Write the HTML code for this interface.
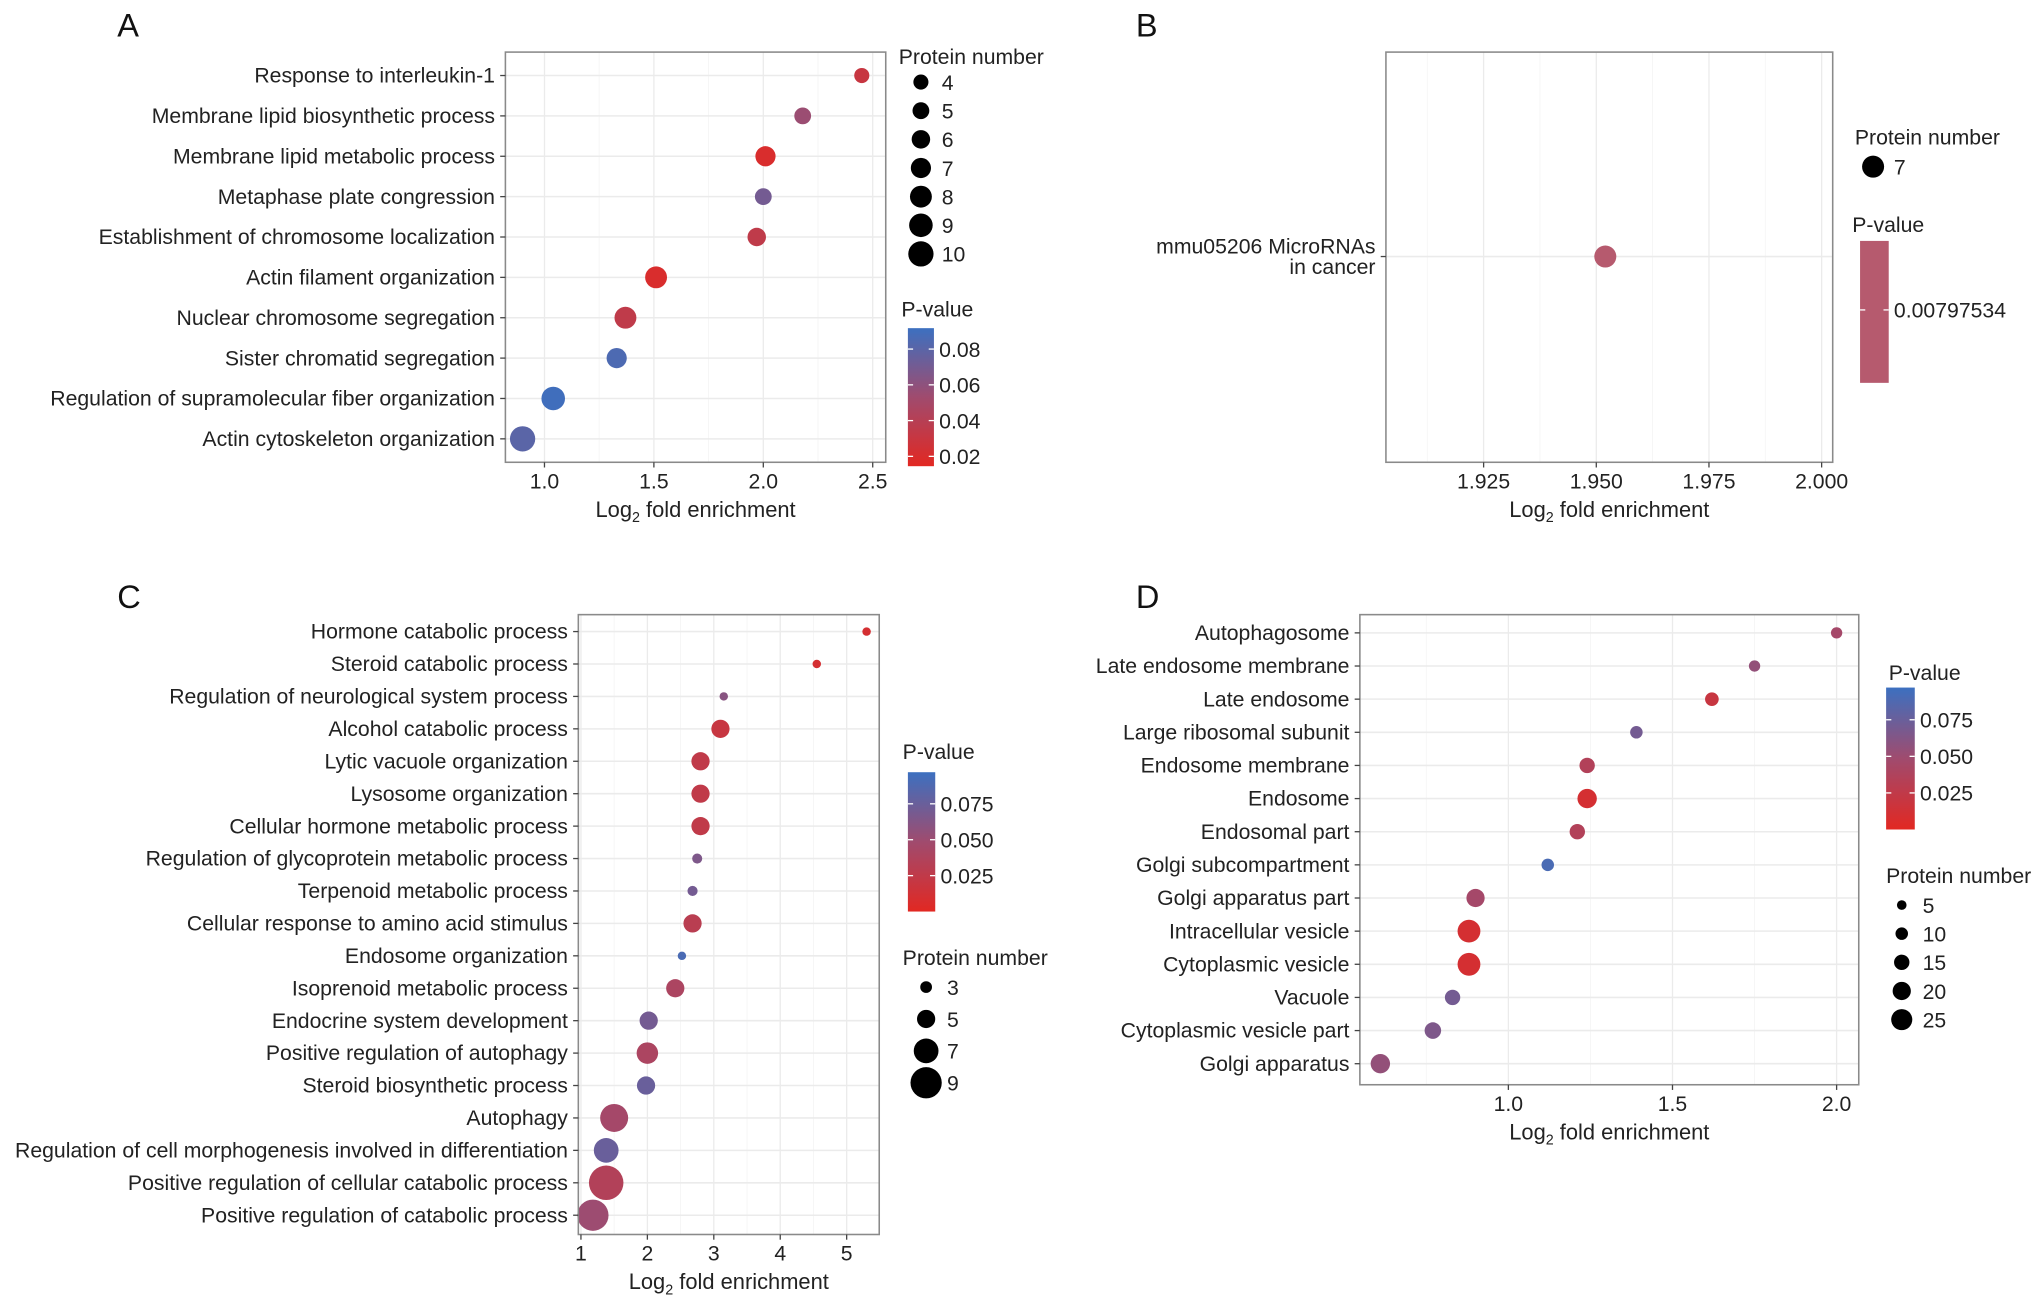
<!DOCTYPE html>
<html><head><meta charset="utf-8"><style>
html,body{margin:0;padding:0;background:#fff;}
svg{display:block;font-family:"Liberation Sans",Arial,sans-serif;}
</style></head>
<body>
<svg id="fig" width="2032" height="1297" viewBox="0 0 1560 996" preserveAspectRatio="none" xmlns="http://www.w3.org/2000/svg">
<defs>
<linearGradient id="pgrad" x1="0" y1="1" x2="0" y2="0">
<stop offset="0" stop-color="rgb(226,40,34)"/><stop offset="0.5" stop-color="rgb(160,75,110)"/><stop offset="1" stop-color="rgb(60,112,192)"/>
</linearGradient>
</defs>
</svg>
<script>
// ---- Panel A data ----
const catsA = ["Response to interleukin-1","Membrane lipid biosynthetic process","Membrane lipid metabolic process","Metaphase plate congression","Establishment of chromosome localization","Actin filament organization","Nuclear chromosome segregation","Sister chromatid segregation","Regulation of supramolecular fiber organization","Actin cytoskeleton organization"];
const foldA = [2.45,2.18,2.01,2.0,1.97,1.51,1.37,1.33,1.04,0.9];
const countA = [4,5,7,5,6,8,8,7,9,10];
const pA = [0.03,0.055,0.02,0.07,0.035,0.02,0.035,0.085,0.09,0.08];
const ticksA = [1.0,1.5,2.0,2.5];
const tickLabA = ["1.0","1.5","2.0","2.5"];
const sizeLegA = [4,5,6,7,8,9,10];
const pTicksA = [0.08,0.06,0.04,0.02];
// ---- Panel B data ----
const catsB = ["mmu05206 MicroRNAs|in cancer"];
const foldB = [1.952];
const countB = [7];
const pB = [0.00797534];
const ticksB = [1.925,1.95,1.975,2.0];
const tickLabB = ["1.925","1.950","1.975","2.000"];
// ---- Panel C data ----
const catsC = ["Hormone catabolic process","Steroid catabolic process","Regulation of neurological system process","Alcohol catabolic process","Lytic vacuole organization","Lysosome organization","Cellular hormone metabolic process","Regulation of glycoprotein metabolic process","Terpenoid metabolic process","Cellular response to amino acid stimulus","Endosome organization","Isoprenoid metabolic process","Endocrine system development","Positive regulation of autophagy","Steroid biosynthetic process","Autophagy","Regulation of cell morphogenesis involved in differentiation","Positive regulation of cellular catabolic process","Positive regulation of catabolic process"];
const foldC = [5.3,4.55,3.15,3.1,2.8,2.8,2.8,2.75,2.68,2.68,2.52,2.42,2.02,2.0,1.98,1.5,1.38,1.38,1.18];
const countC = [2,2,2,5,5,5,5,2.5,2.5,5,2,5,5,6,5,8,7,10,9];
const pC = [0.01,0.01,0.06,0.02,0.025,0.025,0.025,0.065,0.07,0.03,0.09,0.04,0.07,0.04,0.075,0.045,0.075,0.035,0.05];
const ticksC = [1,2,3,4,5];
const tickLabC = ["1","2","3","4","5"];
const sizeLegC = [3,5,7,9];
const pTicksC = [0.075,0.05,0.025];
// ---- Panel D data ----
const catsD = ["Autophagosome","Late endosome membrane","Late endosome","Large ribosomal subunit","Endosome membrane","Endosome","Endosomal part","Golgi subcompartment","Golgi apparatus part","Intracellular vesicle","Cytoplasmic vesicle","Vacuole","Cytoplasmic vesicle part","Golgi apparatus"];
const foldD = [2.0,1.75,1.62,1.39,1.24,1.24,1.21,1.12,0.9,0.88,0.88,0.83,0.77,0.61];
const countD = [8,8,12,10,15,22,15,10,20,28,28,15,17,22];
const pD = [0.045,0.055,0.02,0.07,0.035,0.01,0.035,0.09,0.045,0.01,0.01,0.07,0.065,0.055];
const ticksD = [1.0,1.5,2.0];
const tickLabD = ["1.0","1.5","2.0"];
const sizeLegD = [5,10,15,20,25];
const pTicksD = [0.075,0.05,0.025];

const FS=16.3, FT=16.8, FL=16.3;
const NS="http://www.w3.org/2000/svg";
const svg=document.getElementById('fig');
function mk(tag,attrs,parent,text){const e=document.createElementNS(NS,tag);for(const k in attrs)e.setAttribute(k,attrs[k]);if(text!==undefined)e.textContent=text;(parent||svg).appendChild(e);return e;}
function pcolor(p,pmin,pmax){let t=(p-pmin)/(pmax-pmin);t=Math.max(0,Math.min(1,t));
 const a=[226,40,34],m=[160,75,110],b=[60,112,192];let c;
 if(t<0.5){const u=t/0.5;c=a.map((v,i)=>v+(m[i]-v)*u);}else{const u=(t-0.5)/0.5;c=m.map((v,i)=>v+(b[i]-v)*u);}
 return `rgb(${c.map(Math.round).join(',')})`;}

function panel(cfg){
 const g=mk('g',{});
 
 
 const L=cfg.box[0],T=cfg.box[1],R=cfg.box[2],B=cfg.box[3];
 const xs=v=>cfg.x0px+(v-cfg.x0)*cfg.pxPerUnit;
 const ys=i=>cfg.yTop+i*cfg.yStep;
 const plot=mk('g',{},g);
 
 
 mk('rect',{x:L,y:T,width:R-L,height:B-T,fill:'#fff'},plot);
 for(let k=0;k<cfg.ticks.length+1;k++){const step=cfg.ticks[1]-cfg.ticks[0];const v=cfg.ticks[0]+(k-0.5)*step;const x=xs(v);
  if(x>L&&x<R){const gl=mk('line',{x1:x,x2:x,y1:T,y2:B,stroke:'#f4f4f4','stroke-width':0.6},plot);}}
 cfg.ticks.forEach(v=>{const x=xs(v);const gl=mk('line',{x1:x,x2:x,y1:T,y2:B,stroke:'#ebebeb','stroke-width':1},plot);});
 cfg.cats.forEach((c,i)=>{const y=ys(i);const gl=mk('line',{x1:L,x2:R,y1:y,y2:y,stroke:'#ebebeb','stroke-width':1.2},plot);});
 cfg.cats.forEach((c,i)=>{
  const r=cfg.rA+cfg.rB*cfg.count[i];
  const pt=mk('circle',{cx:xs(cfg.fold[i]),cy:ys(i),r:r,fill:cfg.fixedColor||pcolor(cfg.p[i],cfg.pmin,cfg.pmax)},plot);
  
  
 });
 mk('rect',{x:L,y:T,width:R-L,height:B-T,fill:'none',stroke:'#8a8a8a','stroke-width':1.2},plot);
 cfg.cats.forEach((c,i)=>{const y=ys(i);mk('line',{x1:L-4,x2:L,y1:y,y2:y,stroke:'#444','stroke-width':1},g);
  const parts=c.split('|');
  parts.forEach((p,j)=>{const t=mk('text',{x:L-8,y:y+5.5+(j-(parts.length-1)/2)*16,'text-anchor':'end','font-size':FS,fill:'#222'},g,p);
   });
 });
 cfg.ticks.forEach((v,k)=>{const x=xs(v);mk('line',{x1:x,x2:x,y1:B,y2:B+4,stroke:'#444','stroke-width':1},g);
  const t=mk('text',{x:x,y:B+20,'text-anchor':'middle','font-size':FS,fill:'#222'},g,cfg.tickLab[k]);
  });
 const at=mk('text',{x:(L+R)/2,y:B+42,'text-anchor':'middle','font-size':FT,fill:'#222'},g);
 
 mk('tspan',{},at,'Log');mk('tspan',{'font-size':11,dy:4},at,'2');mk('tspan',{dy:-4},at,' fold enrichment');
 const pl=mk('text',{x:cfg.letter[0],y:cfg.letter[1],'font-size':25,fill:'#111'},g,cfg.letterText);
 
 if(cfg.sizeLeg){const sl=mk('g',{},g);
  mk('text',{x:cfg.sizeLeg.x,y:cfg.sizeLeg.y,'font-size':FL,fill:'#222'},sl,'Protein number');
  cfg.sizeLeg.vals.forEach((v,k)=>{const y=cfg.sizeLeg.y0+k*cfg.sizeLeg.dy;
   const c=mk('circle',{cx:cfg.sizeLeg.cx,cy:y,r:cfg.rA+cfg.rB*v,fill:'#000'},sl);
   
   mk('text',{x:cfg.sizeLeg.cx+16,y:y+6,'font-size':FS,fill:'#222'},sl,String(v));});}
 if(cfg.colLeg){const cl=mk('g',{},g);
  const c=cfg.colLeg;mk('text',{x:c.tx,y:c.ty,'font-size':FL,fill:'#222'},cl,'P-value');
  mk('rect',{x:c.x,y:c.y0,width:c.w,height:c.y1-c.y0,fill:c.fill||'url(#pgrad)'},cl);
  const py=p=>c.y1-(p-cfg.pmin)/(cfg.pmax-cfg.pmin)*(c.y1-c.y0);
  c.ticks.forEach((p,k)=>{const y=c.fixedY?c.fixedY:py(p);
   mk('line',{x1:c.x,x2:c.x+4,y1:y,y2:y,stroke:'#fff','stroke-width':1},cl);
   mk('line',{x1:c.x+c.w-4,x2:c.x+c.w,y1:y,y2:y,stroke:'#fff','stroke-width':1},cl);
   mk('text',{x:c.x+c.w+4,y:y+6,'font-size':FS,fill:'#222'},cl,c.labels[k]);});}
}

panel({name:'panel-a',letterText:'A',letter:[90,28],box:[388,40,680,355],cats:catsA,fold:foldA,count:countA,p:pA,
 ticks:ticksA,tickLab:tickLabA,x0:1.0,x0px:418,pxPerUnit:168,yTop:58,yStep:31,rA:3.2,rB:0.65,pmin:0.0145,pmax:0.0917,
 sizeLeg:{x:690,y:49,cx:707,y0:63,dy:22,vals:sizeLegA},
 colLeg:{tx:692,ty:243,x:697,w:20,y0:252,y1:358,ticks:pTicksA,labels:pTicksA.map(v=>v.toFixed(2))}});
panel({name:'panel-b',letterText:'B',letter:[872,28],box:[1064,40,1407,355],cats:catsB,fold:foldB,count:countB,p:pB,
 ticks:ticksB,tickLab:tickLabB,x0:1.925,x0px:1139,pxPerUnit:3460,yTop:197,yStep:30,rA:3.2,rB:0.75,pmin:0,pmax:0.1,fixedColor:'#b65a6e',
 sizeLeg:{x:1424,y:111,cx:1438,y0:128,dy:22,vals:countB},
 colLeg:{tx:1422,ty:178,x:1428,w:22,y0:185,y1:294,fill:'#b65a6e',fixedY:238,ticks:pB,labels:['0.00797534']}});
panel({name:'panel-c',letterText:'C',letter:[90,467],box:[444,472,675,948],cats:catsC,fold:foldC,count:countC,p:pC,
 ticks:ticksC,tickLab:tickLabC,x0:1,x0px:446,pxPerUnit:51,yTop:485,yStep:24.9,rA:0.75,rB:1.25,pmin:0,pmax:0.097,
 sizeLeg:{x:693,y:741,cx:711,y0:758,dy:24.5,vals:sizeLegC},
 colLeg:{tx:693,ty:583,x:697,w:21,y0:593,y1:700,ticks:pTicksC,labels:['0.075','0.050','0.025']}});
panel({name:'panel-d',letterText:'D',letter:[872,467],box:[1044,472,1427,833],cats:catsD,fold:foldD,count:countD,p:pD,
 ticks:ticksD,tickLab:tickLabD,x0:1.0,x0px:1158,pxPerUnit:252,yTop:486,yStep:25.45,rA:2.6,rB:0.22,pmin:0,pmax:0.097,
 sizeLeg:{x:1448,y:678,cx:1460,y0:695,dy:22,vals:sizeLegD},
 colLeg:{tx:1450,ty:522,x:1448,w:22,y0:528,y1:637,ticks:pTicksD,labels:['0.075','0.050','0.025']}});
</script>
</body></html>
